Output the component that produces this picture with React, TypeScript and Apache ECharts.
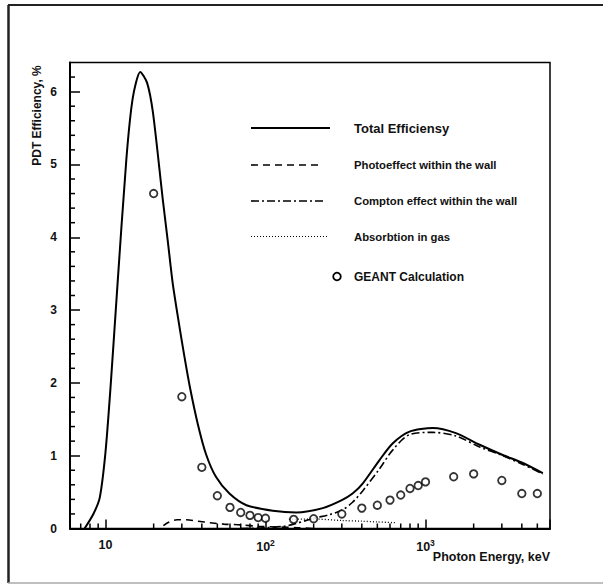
import React, { useEffect, useRef } from 'react';
import * as echarts from 'echarts';

// ---- data ----
const totalEnergy = [7.4, 8.4, 9.2, 10, 10.8, 11.8, 13.5, 14.8, 16.5, 18.2, 19.8, 22.8, 24.5, 26.3, 29, 31.2, 33.7, 37.7, 42.5, 49, 59.5, 76, 111, 156, 228, 300, 350, 406, 516, 625, 795, 1110, 1550, 2180, 3040, 4060, 5410];
const totalValue = [0, 0.2, 0.42, 1.05, 2.0, 3.25, 5.07, 5.91, 6.27, 6.12, 5.71, 4.52, 3.95, 3.37, 2.77, 2.35, 1.94, 1.44, 1.02, 0.71, 0.48, 0.32, 0.245, 0.22, 0.28, 0.39, 0.48, 0.62, 0.94, 1.17, 1.33, 1.38, 1.31, 1.15, 1.01, 0.9, 0.76];

const photoEnergy = [23, 25, 28, 32, 38, 45, 55, 70, 90, 120, 160, 200];
const photoValue = [0.04, 0.09, 0.12, 0.12, 0.1, 0.08, 0.06, 0.05, 0.03, 0.02, 0.01, 0];

const comptonEnergy = [70, 100, 130, 150, 200, 250, 300, 350, 406, 516, 625, 795, 1110, 1550, 2180, 3040, 4060, 5410];
const comptonValue = [0, 0.01, 0.03, 0.06, 0.14, 0.19, 0.25, 0.36, 0.52, 0.82, 1.08, 1.29, 1.32, 1.27, 1.12, 1.0, 0.88, 0.75];

const gasEnergy = [140, 200, 300, 400, 500, 650];
const gasValue = [0.13, 0.13, 0.11, 0.1, 0.09, 0.08];

const geantEnergy = [20, 30, 40, 50, 60, 70, 80, 90, 100, 150, 200, 300, 400, 500, 600, 700, 800, 900, 1000, 1500, 2000, 3000, 4000, 5000];
const geantValue = [4.6, 1.81, 0.84, 0.45, 0.29, 0.22, 0.18, 0.15, 0.14, 0.125, 0.135, 0.2, 0.28, 0.32, 0.39, 0.46, 0.55, 0.59, 0.64, 0.71, 0.75, 0.66, 0.48, 0.48];

const xMinorTicks = [7, 8, 9, 20, 30, 40, 50, 60, 70, 80, 90, 200, 300, 400, 500, 600, 700, 800, 900, 2000, 3000, 4000, 5000];
const yMinorTicks = [0.2, 0.4, 0.6, 0.8, 1.2, 1.4, 1.6, 1.8, 2.2, 2.4, 2.6, 2.8, 3.2, 3.4, 3.6, 3.8, 4.2, 4.4, 4.6, 4.8, 5.2, 5.4, 5.6, 5.8, 6.2];

const seriesNames = ['Total Efficiensy', 'Photoeffect within the wall', 'Compton effect within the wall', 'Absorbtion in gas', 'GEANT Calculation'];
const xAxisTitle = 'Photon Energy, keV';
const yAxisTitle = 'PDT Efficiency, %';

const FONT = '"Liberation Sans", Arial, sans-serif';
const INK = '#111';

const zip = (xs: number[], ys: number[]) => xs.map((x, i) => [x, ys[i]]);

const DASH = [7, 5];
const DASHDOT = [8, 3, 2, 3];
const DOT = [1, 2];

export default function App() {
  const ref = useRef<HTMLDivElement>(null);
  useEffect(() => {
    if (!ref.current) return;
    const chart = echarts.init(ref.current, undefined, { renderer: 'svg' });

    const xLabelFormatter = (v: number) => {
      const lg = Math.log10(v);
      const e = Math.round(lg);
      if (Math.abs(lg - e) > 1e-6) return '';
      if (e === 1) return '{b|10}';
      return '{b|10}{s|' + e + '}';
    };

    const legendLine = (y: number, x2: number, dash: number[] | null, width: number) => ({
      type: 'line',
      shape: { x1: 251, y1: y, x2, y2: y },
      style: { stroke: '#000', lineWidth: width, lineDash: dash || undefined },
      silent: true,
    });
    const legendText = (y: number, text: string, size: number) => ({
      type: 'text',
      x: 354,
      y,
      style: { text, fill: INK, fontFamily: FONT, fontWeight: 'bold', fontSize: size, align: 'left', verticalAlign: 'middle' },
      silent: true,
    });

    const option: any = {
      animation: false,
      backgroundColor: '#fff',
      grid: { left: 70, right: 53, top: 62.5, bottom: 57.5, show: true, borderColor: '#000', borderWidth: 1.5, backgroundColor: 'transparent' },
      xAxis: {
        type: 'log',
        logBase: 10,
        min: 6,
        max: 6000,
        axisLine: { show: true, lineStyle: { color: '#000', width: 2 } },
        axisTick: { show: true, inside: true, length: 9, lineStyle: { color: '#000', width: 1.5 } },
        minorTick: { show: false },
        splitLine: { show: false },
        axisLabel: {
          margin: 10,
          formatter: xLabelFormatter,
          rich: {
            b: { fontSize: 12.5, fontWeight: 'bold', fontFamily: FONT, color: INK, verticalAlign: 'bottom' },
            s: { fontSize: 8.5, fontWeight: 'bold', fontFamily: FONT, color: INK, verticalAlign: 'bottom', padding: [0, 0, 6, 0] },
          },
        },
      },
      yAxis: {
        type: 'value',
        min: 0,
        max: 6.4,
        interval: 1,
        axisLine: { show: true, lineStyle: { color: '#000', width: 2 } },
        axisTick: { show: true, inside: true, length: 10, lineStyle: { color: '#000', width: 1.5 } },
        splitLine: { show: false },
        axisLabel: { showMaxLabel: false, margin: 13, fontSize: 12, fontWeight: 'bold', fontFamily: FONT, color: INK },
      },
      series: [
        {
          name: seriesNames[0], type: 'line', data: zip(totalEnergy, totalValue), symbol: 'none', smooth: 0.25,
          lineStyle: { color: '#000', width: 2 }, z: 3,
        },
        {
          name: seriesNames[1], type: 'line', data: zip(photoEnergy, photoValue), symbol: 'none', smooth: 0.3,
          lineStyle: { color: '#000', width: 1.6, type: DASH }, z: 2,
        },
        {
          name: seriesNames[2], type: 'line', data: zip(comptonEnergy, comptonValue), symbol: 'none', smooth: 0.3,
          lineStyle: { color: '#000', width: 1.6, type: DASHDOT }, z: 2,
        },
        {
          name: seriesNames[3], type: 'line', data: zip(gasEnergy, gasValue), symbol: 'none', smooth: 0.3,
          lineStyle: { color: '#000', width: 1.3, type: DOT }, z: 2,
        },
        {
          name: seriesNames[4], type: 'scatter', data: zip(geantEnergy, geantValue), symbol: 'circle', symbolSize: 7.5,
          itemStyle: { color: '#fff', borderColor: '#000', borderWidth: 1.8 }, z: 5,
        },
        {
          type: 'custom', silent: true, clip: false, encode: { x: 0, y: 1 },
          data: xMinorTicks.map((v) => [v, 0]),
          renderItem: (params: any, api: any) => {
            const p = api.coord([api.value(0), api.value(1)]);
            return { type: 'line', shape: { x1: p[0], y1: p[1], x2: p[0], y2: p[1] - 5 }, style: { stroke: '#000', lineWidth: 1.5 } };
          },
          z: 4,
        },
        {
          type: 'custom', silent: true, clip: false, encode: { x: 0, y: 1 },
          data: yMinorTicks.map((v) => [6, v]),
          renderItem: (params: any, api: any) => {
            const p = api.coord([api.value(0), api.value(1)]);
            return { type: 'line', shape: { x1: p[0], y1: p[1], x2: p[0] + 5, y2: p[1] }, style: { stroke: '#000', lineWidth: 1.5 } };
          },
          z: 4,
        },
      ],
      graphic: [
        // outer frame of the scanned figure
        { type: 'line', shape: { x1: 8, y1: 5, x2: 603, y2: 5 }, style: { stroke: '#222', lineWidth: 2 }, silent: true },
        { type: 'line', shape: { x1: 8.5, y1: 5, x2: 8.5, y2: 583 }, style: { stroke: '#222', lineWidth: 2.5 }, silent: true },
        { type: 'line', shape: { x1: 8, y1: 583, x2: 603, y2: 583 }, style: { stroke: '#aaa', lineWidth: 1.5 }, silent: true },
        // axis titles
        {
          type: 'text', x: 37, y: 115.5, rotation: Math.PI / 2,
          style: { text: yAxisTitle, fill: INK, fontFamily: FONT, fontWeight: 'bold', fontSize: 12, align: 'center', verticalAlign: 'middle' },
          silent: true,
        },
        {
          type: 'text', x: 550, y: 557,
          style: { text: xAxisTitle, fill: INK, fontFamily: FONT, fontWeight: 'bold', fontSize: 12.5, align: 'right', verticalAlign: 'middle' },
          silent: true,
        },
        // legend
        legendLine(128, 330, null, 2),
        legendText(128, seriesNames[0], 13),
        legendLine(165, 323, DASH, 1.6),
        legendText(165, seriesNames[1], 11.3),
        legendLine(201, 325, DASHDOT, 1.6),
        legendText(201, seriesNames[2], 11.3),
        legendLine(236.5, 328, DOT, 1.2),
        legendText(236.5, seriesNames[3], 11.3),
        { type: 'circle', shape: { cx: 337, cy: 276.5, r: 3.8 }, style: { fill: '#fff', stroke: '#000', lineWidth: 1.8 }, silent: true },
        legendText(276.5, seriesNames[4], 12),
      ],
    };

    chart.setOption(option);
    return () => chart.dispose();
  }, []);

  return <div ref={ref} style={{ position: 'fixed', left: 0, top: 0, width: 603, height: 586, background: '#fff' }} />;
}
